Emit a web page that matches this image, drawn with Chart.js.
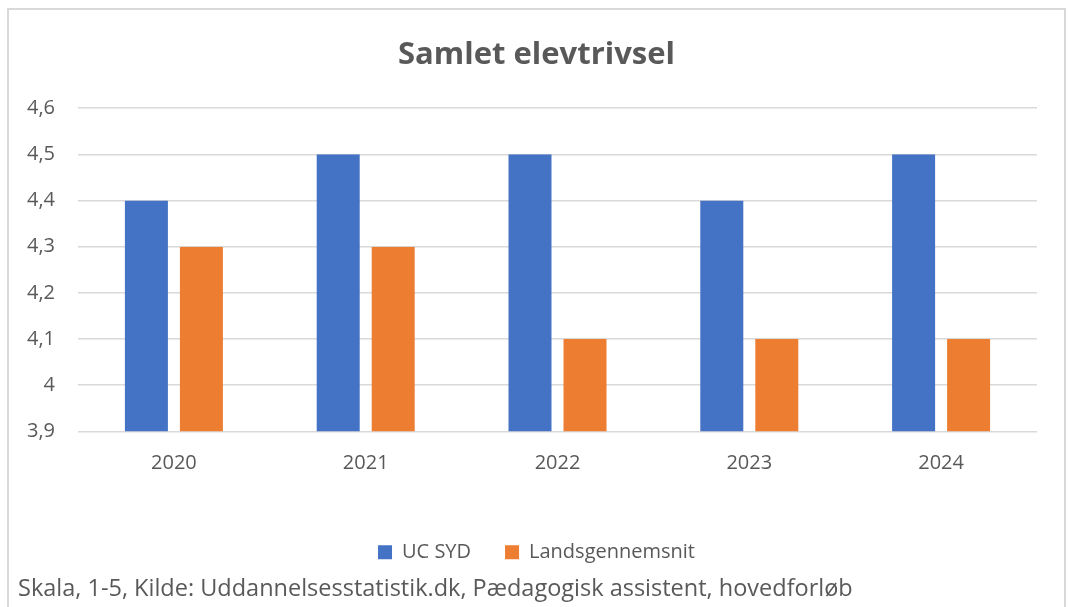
<!DOCTYPE html>
<html>
<head>
<meta charset="utf-8">
<script src="https://cdn.jsdelivr.net/npm/chart.js@4"></script>
<style>
html,body{margin:0;padding:0;background:#fff;overflow:hidden;width:1068px;height:607px;}
#box{position:absolute;left:7px;top:8px;width:1055px;height:620px;border:2px solid #D9D9D9;background:#fff;}
#wrap{position:absolute;left:0;top:0;width:1055px;height:597px;}
</style>
</head>
<body>
<div id="box"><div id="wrap"><canvas id="c" width="1055" height="597"></canvas></div></div>
<script>
const categories = ['2020', '2021', '2022', '2023', '2024'];
const ucSyd = [4.4, 4.5, 4.5, 4.4, 4.5];
const landsgennemsnit = [4.3, 4.3, 4.1, 4.1, 4.1];
const seriesNames = ['UC SYD', 'Landsgennemsnit'];
const yMin = 3.9, yMax = 4.6, yStep = 0.1;
const titleText = 'Samlet elevtrivsel';
const footerText = 'Skala, 1-5, Kilde: Uddannelsesstatistik.dk, Pædagogisk assistent, hovedforløb';

const FONT = "'Open Sans', sans-serif";
const GREY = '#595959';

new Chart(document.getElementById('c'), {
  type: 'bar',
  data: {
    labels: categories,
    datasets: [
      { label: seriesNames[0], data: ucSyd, backgroundColor: '#4472C4',
        borderColor: 'rgba(0,0,0,0)', borderWidth: {left: 6, right: 6, top: 0, bottom: 0}, borderSkipped: false },
      { label: seriesNames[1], data: landsgennemsnit, backgroundColor: '#ED7D31',
        borderColor: 'rgba(0,0,0,0)', borderWidth: {left: 6, right: 6, top: 0, bottom: 0}, borderSkipped: false }
    ]
  },
  options: {
    responsive: false,
    animation: false,
    events: [],
    layout: { padding: { left: 9, right: 9, top: 0, bottom: 0 } },
    datasets: { bar: { categoryPercentage: 0.5735, barPercentage: 1 } },
    scales: {
      x: {
        grid: { display: false, drawTicks: false },
        border: { display: false },
        ticks: { color: GREY, font: { family: FONT, size: 20 }, padding: 20, maxRotation: 0 },
        afterFit: s => { s.height = 77; }
      },
      y: {
        min: yMin, max: yMax,
        grid: { color: '#D9D9D9', lineWidth: 1.5, drawTicks: false },
        border: { display: false },
        ticks: {
          stepSize: yStep, padding: 23, color: GREY, font: { family: FONT, size: 20 },
          callback: v => String(Math.round(v * 10) / 10).replace('.', ',')
        },
        afterFit: s => { s.width = 60; }
      },
      y2: {
        position: 'right', display: true,
        grid: { display: false, drawTicks: false },
        border: { display: false },
        ticks: { display: false },
        afterFit: s => { s.width = 18; }
      }
    },
    plugins: {
      tooltip: { enabled: false },
      title: {
        display: true, text: titleText, color: GREY,
        font: { family: FONT, size: 31, weight: 'bold' },
        padding: { top: 27, bottom: 34 }
      },
      legend: {
        position: 'bottom',
        labels: {
          color: GREY, font: { family: FONT, size: 20 },
          boxWidth: 14, boxHeight: 14, padding: 34
        }
      },
      subtitle: {
        display: true, position: 'bottom', align: 'start', text: footerText, color: GREY,
        font: { family: FONT, size: 23.5 },
        padding: { top: 2.5, bottom: 4 }
      }
    }
  }
});
</script>
</body>
</html>
